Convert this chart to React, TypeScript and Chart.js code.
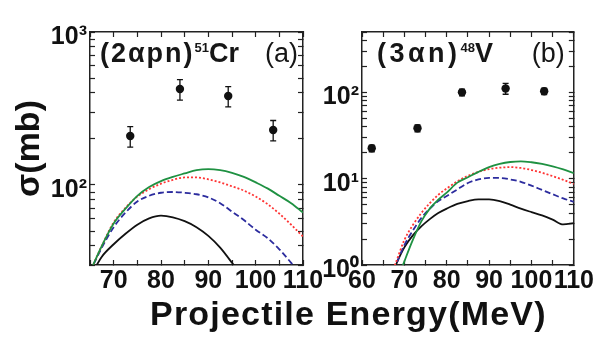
import React, { useEffect, useRef } from "react";
import { Chart, registerables } from "chart.js";

Chart.register(...registerables);

const FONT = "'Liberation Sans', Arial, Helvetica, sans-serif";

// ---------- Panel (a): (2αpn)51Cr ----------
const energyA = [65, 67.5, 70, 72.5, 75, 77.5, 80, 82.5, 85, 87.5, 90, 92.5, 95, 97.5, 100, 102.5, 105, 107.5, 110];
const greenA = [27, 40, 56, 70, 85, 97, 106, 113, 119, 125, 127, 125, 120, 113, 104, 95, 85, 76, 66];
const redA = [27, 40, 57, 71, 84, 94, 102, 108, 112, 112, 109, 104, 98, 92, 84, 75, 65, 55, 46];
const blueA = [27, 39, 53, 66, 78, 85, 89, 90, 89, 87, 83, 76, 67, 59, 51, 45, 38, 31, 25];
const blackA = [25, 34, 41, 48, 55, 60.5, 63, 61.5, 58, 53, 46.5, 39, 31, 24, 18, null, null, null, null];
const expEnergyA = [73.5, 84, 94.2, 103.7];
const expSigmaA = [209, 424, 382, 229];
const expErrA = [32, 65, 58, 35];
const xTicksA = [65, 70, 75, 80, 85, 90, 95, 100, 105, 110];
const yTicksA = [30, 40, 50, 60, 70, 80, 90, 100, 200, 300, 400, 500, 600, 700, 800, 900, 1000];
const yLabelsA: Record<number, string> = { 100: "10²", 1000: "10³" };

// ---------- Panel (b): (3αn)48V ----------
const energyB = [66, 68, 70, 72, 74, 76, 78, 80, 82.5, 85, 87.5, 90, 92.5, 95, 97.5, 100, 102.5, 105, 107.5, 110];
const greenB = [0.3, 0.6, 1.1, 1.95, 3.2, 4.5, 5.7, 6.9, 9.0, 10.4, 12.0, 13.6, 14.8, 15.6, 15.9, 15.5, 14.8, 13.9, 12.8, 11.6];
const redB = [0.6, 1.07, 1.95, 2.9, 4.0, 5.2, 6.5, 7.7, 9.3, 10.8, 12.0, 12.9, 13.4, 13.6, 13.3, 12.6, 11.7, 10.7, 9.7, 8.7];
const blueB = [0.55, 1.0, 1.7, 2.5, 3.5, 4.5, 5.5, 6.3, 7.5, 8.9, 9.8, 10.2, 10.2, 9.8, 9.2, 8.3, 7.4, 6.6, 5.9, 5.4];
const blackB = [0.55, 1.0, 1.6, 2.2, 2.8, 3.4, 4.0, 4.5, 5.1, 5.5, 5.75, 5.75, 5.5, 5.0, 4.5, 4.1, 3.75, 3.35, 2.95, 3.05];
const expEnergyB = [62.3, 73.1, 83.6, 93.9, 103];
const expSigmaB = [22.5, 38.4, 100, 111, 103];
const expErrB = [2, 3.5, 9, 16, 9];
const xTicksB = [60, 65, 70, 75, 80, 85, 90, 95, 100, 105, 110];
const yTicksB = [1, 2, 3, 4, 5, 6, 7, 8, 9, 10, 20, 30, 40, 50, 60, 70, 80, 90, 100, 200, 300, 400, 500];
const yLabelsB: Record<number, string> = { 1: "10⁰", 10: "10¹", 100: "10²" };

const GREEN = "#1f9142";
const RED = "#ff3434";
const BLUE = "#2c2c9e";
const BLACK = "#111111";
const AXIS = "#222222";

type Run = { t: string; size: number; weight: string; rise?: number; ls?: number };

function drawRuns(ctx: CanvasRenderingContext2D, x: number, baseline: number, runs: Run[]) {
  for (const r of runs) {
    ctx.font = `${r.weight} ${r.size}px ${FONT}`;
    (ctx as any).letterSpacing = `${r.ls || 0}px`;
    ctx.fillText(r.t, x, baseline - (r.rise || 0));
    x += ctx.measureText(r.t).width;
  }
  (ctx as any).letterSpacing = "0px";
}

type Panel = {
  energy: number[];
  green: (number | null)[];
  red: (number | null)[];
  blue: (number | null)[];
  black: (number | null)[];
  expE: number[];
  expS: number[];
  expErr: number[];
  xMin: number;
  xMax: number;
  xTicks: number[];
  yMin: number;
  yMax: number;
  yTicks: number[];
  yLabels: Record<number, string>;
  yAxisW: number;
  padRight: number;
  yTitle: boolean;
  labelRuns: Run[];
  labelDx: number;
  tag: string;
  tagDx: number;
};

function makePanel(canvas: HTMLCanvasElement, p: Panel) {
  const series = [
    { vals: p.green, color: GREEN, dash: [] as number[] },
    { vals: p.red, color: RED, dash: [2, 2] },
    { vals: p.blue, color: BLUE, dash: [6, 3] },
    { vals: p.black, color: BLACK, dash: [] as number[] },
  ];
  const datasets: any[] = series.map((s) => ({
    type: "line",
    data: p.energy.map((e, i) => ({ x: e, y: s.vals[i] })),
    borderColor: s.color,
    borderWidth: 1.8,
    borderDash: s.dash,
    pointRadius: 0,
    cubicInterpolationMode: "monotone",
    fill: false,
  }));
  datasets.push({
    type: "line",
    data: p.expE.map((e, i) => ({ x: e, y: p.expS[i] })),
    showLine: false,
    pointRadius: 4.2,
    pointBackgroundColor: BLACK,
    pointBorderColor: BLACK,
    pointBorderWidth: 0,
  });

  const tickFont = { family: FONT, size: 25, weight: "bold" as const };
  const grid = {
    drawOnChartArea: false,
    drawTicks: true,
    tickLength: -5,
    tickWidth: 1.2,
    tickColor: AXIS,
  };
  const border = { display: true, color: AXIS, width: 1.5 };
  const setX = (s: any) => {
    s.ticks = p.xTicks.map((v) => ({ value: v }));
  };
  const setY = (s: any) => {
    s.ticks = p.yTicks.map((v) => ({ value: v }));
  };

  const plugin = {
    id: "panelDecor",
    afterDatasetsDraw(chart: any) {
      const { ctx, scales } = chart;
      const xs = scales.x;
      const ys = scales.y;
      ctx.save();
      ctx.strokeStyle = BLACK;
      ctx.lineWidth = 1.3;
      for (let i = 0; i < p.expE.length; i++) {
        const px = xs.getPixelForValue(p.expE[i]);
        const hi = ys.getPixelForValue(p.expS[i] + p.expErr[i]);
        const lo = ys.getPixelForValue(p.expS[i] - p.expErr[i]);
        ctx.beginPath();
        ctx.moveTo(px, hi);
        ctx.lineTo(px, lo);
        ctx.moveTo(px - 3, hi);
        ctx.lineTo(px + 3, hi);
        ctx.moveTo(px - 3, lo);
        ctx.lineTo(px + 3, lo);
        ctx.stroke();
      }
      ctx.restore();
    },
    afterDraw(chart: any) {
      const { ctx, chartArea } = chart;
      ctx.save();
      ctx.fillStyle = "#161616";
      ctx.textBaseline = "alphabetic";
      ctx.textAlign = "left";
      drawRuns(ctx, chartArea.left + p.labelDx, 62, p.labelRuns);
      ctx.font = `normal 27px ${FONT}`;
      ctx.textAlign = "right";
      ctx.fillText(p.tag, chartArea.right - p.tagDx, 62);
      ctx.restore();
    },
  };

  return new Chart(canvas, {
    type: "line",
    data: { datasets },
    options: {
      animation: false,
      responsive: false,
      devicePixelRatio: 1,
      layout: { padding: { left: 0, top: 32, right: p.padRight, bottom: 0 } },
      plugins: { legend: { display: false }, tooltip: { enabled: false }, title: { display: false } },
      scales: {
        x: {
          type: "linear",
          position: "bottom",
          min: p.xMin,
          max: p.xMax,
          afterBuildTicks: setX,
          afterFit: (s: any) => {
            s.height = 35;
          },
          ticks: {
            autoSkip: false,
            maxRotation: 0,
            minRotation: 0,
            padding: 6,
            font: tickFont,
            color: "#111",
            callback: (v: any) => (Number(v) % 10 === 0 ? String(v) : ""),
          },
          grid,
          border,
        },
        x2: {
          type: "linear",
          position: "top",
          min: p.xMin,
          max: p.xMax,
          afterBuildTicks: setX,
          afterFit: (s: any) => {
            s.height = 0;
          },
          ticks: { display: false },
          grid,
          border,
        },
        y: {
          type: "logarithmic",
          position: "left",
          min: p.yMin,
          max: p.yMax,
          afterBuildTicks: setY,
          afterFit: (s: any) => {
            s.width = p.yAxisW;
          },
          ticks: {
            autoSkip: false,
            padding: 8,
            labelOffset: 5,
            font: tickFont,
            color: "#111",
            callback: (v: any) => p.yLabels[Number(v)] ?? "",
          },
          title: {
            display: p.yTitle,
            text: "σ(mb)",
            color: "#111",
            font: { family: FONT, size: 34, weight: "bold", lineHeight: 1 },
            padding: { top: 13, bottom: 0 },
          },
          grid,
          border,
        },
        y2: {
          type: "logarithmic",
          position: "right",
          min: p.yMin,
          max: p.yMax,
          afterBuildTicks: setY,
          afterFit: (s: any) => {
            s.width = 0;
          },
          ticks: { display: false },
          grid,
          border,
        },
      },
    } as any,
    plugins: [plugin],
  });
}

const panelA: Panel = {
  energy: energyA,
  green: greenA,
  red: redA,
  blue: blueA,
  black: blackA,
  expE: expEnergyA,
  expS: expSigmaA,
  expErr: expErrA,
  xMin: 65,
  xMax: 110,
  xTicks: xTicksA,
  yMin: 30,
  yMax: 1000,
  yTicks: yTicksA,
  yLabels: yLabelsA,
  yAxisW: 90,
  padRight: 27,
  yTitle: true,
  labelRuns: [
    { t: "(2αpn)", size: 27, weight: "bold", ls: 2 },
    { t: "51", size: 13, weight: "bold", rise: 10 },
    { t: "Cr", size: 27, weight: "bold" },
  ],
  labelDx: 10,
  tag: "(a)",
  tagDx: 5,
};

const panelB: Panel = {
  energy: energyB,
  green: greenB,
  red: redB,
  blue: blueB,
  black: blackB,
  expE: expEnergyB,
  expS: expSigmaB,
  expErr: expErrB,
  xMin: 60,
  xMax: 110,
  xTicks: xTicksB,
  yMin: 1,
  yMax: 500,
  yTicks: yTicksB,
  yLabels: yLabelsB,
  yAxisW: 62,
  padRight: 24,
  yTitle: false,
  labelRuns: [
    { t: "(3αn)", size: 27, weight: "bold", ls: 3.5 },
    { t: "48", size: 13, weight: "bold", rise: 10 },
    { t: "V", size: 27, weight: "bold" },
  ],
  labelDx: 15,
  tag: "(b)",
  tagDx: 9,
};

export default function App() {
  const refA = useRef<HTMLCanvasElement | null>(null);
  const refB = useRef<HTMLCanvasElement | null>(null);

  useEffect(() => {
    const ca = refA.current ? makePanel(refA.current, panelA) : null;
    const cb = refB.current ? makePanel(refB.current, panelB) : null;
    return () => {
      ca?.destroy();
      cb?.destroy();
    };
  }, []);

  return (
    <div style={{ position: "absolute", left: 0, top: 0, width: 600, height: 338, background: "#fff", overflow: "hidden" }}>
      <canvas ref={refA} width={330} height={300} style={{ position: "absolute", left: 0, top: 0, width: 330, height: 300 }} />
      <canvas ref={refB} width={300} height={300} style={{ position: "absolute", left: 300, top: 0, width: 300, height: 300 }} />
      <div
        style={{
          position: "absolute",
          left: 150,
          top: 296,
          font: `bold 34px ${FONT}`,
          lineHeight: "34px",
          letterSpacing: "1.2px",
          whiteSpace: "nowrap",
          color: "#111",
        }}
      >
        Projectile Energy(MeV)
      </div>
    </div>
  );
}
